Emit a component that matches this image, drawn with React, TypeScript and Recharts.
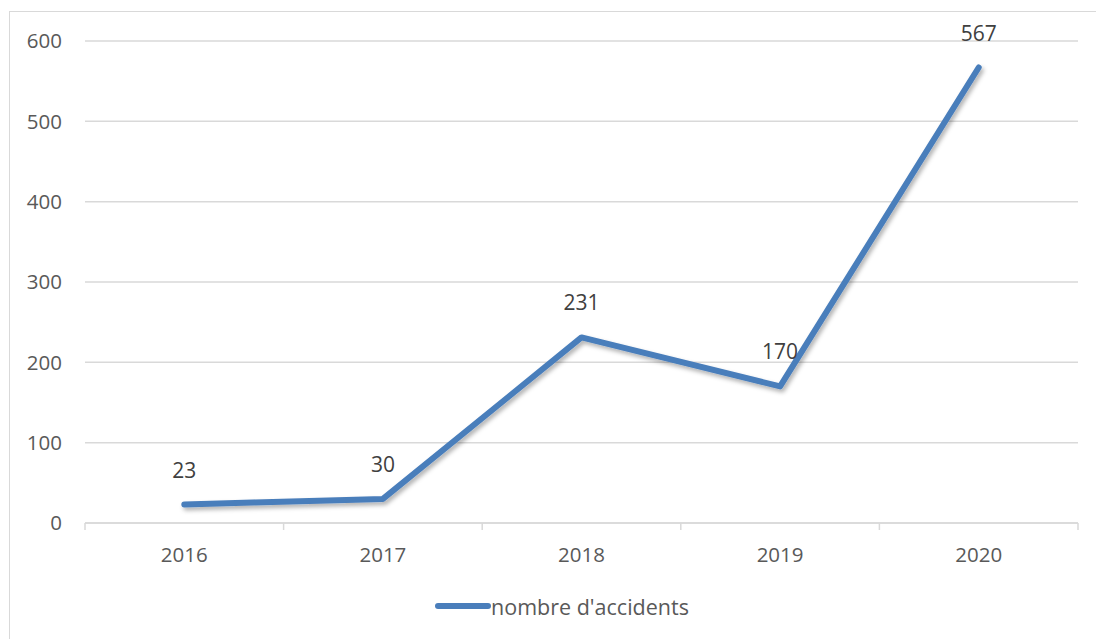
import { CartesianGrid, LabelList, Legend, Line, LineChart, XAxis, YAxis } from "recharts";

const years = ["2016", "2017", "2018", "2019", "2020"];
const accidents = [23, 30, 231, 170, 567];
const yTicks = [0, 100, 200, 300, 400, 500, 600];

const data = years.map((year, i) => ({ year, accidents: accidents[i] }));

const FONT = "'Open Sans', sans-serif";
const LINE_COLOR = "#4a7ebb";
const CHART_W = 1086;
const CHART_H = 627;
const MARGIN = { top: 29, right: 18, bottom: 18, left: 0 };
const Y_WIDTH = 75;
const X_TICK_MARGIN = 18;
const halfBand = (CHART_W - MARGIN.left - MARGIN.right - Y_WIDTH) / years.length / 2;

function YearTick(props: any) {
    const { x, y, payload, index } = props;
    const axisY = y - 6 - X_TICK_MARGIN;
    const left = x - halfBand;
    const right = x + halfBand;
    return (
        <g>
            <line x1={left} x2={left} y1={axisY} y2={axisY + 7} stroke="#d9d9d9" strokeWidth={1.5} />
            {index === years.length - 1 && (
                <line x1={right} x2={right} y1={axisY} y2={axisY + 7} stroke="#d9d9d9" strokeWidth={1.5} />
            )}
            <text x={x} y={y} dy="0.71em" textAnchor="middle" fill="#595959" fontSize={20.5} fontFamily={FONT}>
                {payload.value}
            </text>
        </g>
    );
}

function LegendContent() {
    return (
        <div
            style={{
                height: 30,
                display: "flex",
                alignItems: "center",
                justifyContent: "center",
                paddingLeft: 36,
                fontFamily: FONT,
                fontSize: 21.5,
                color: "#595959",
            }}
        >
            <span
                style={{
                    display: "inline-block",
                    width: 56,
                    height: 6,
                    borderRadius: 3,
                    background: LINE_COLOR,
                }}
            />
            <span>nombre d'accidents</span>
        </div>
    );
}

export default function App() {
    return (
        <div
            style={{
                position: "absolute",
                left: 9,
                top: 11,
                width: 1100,
                height: 640,
                border: "1px solid #d9d9d9",
                background: "#fff",
            }}
        >
            <LineChart width={CHART_W} height={CHART_H} data={data} margin={MARGIN}>
                <defs>
                    <filter id="lineShadow" x="-10%" y="-10%" width="120%" height="130%">
                        <feDropShadow dx="2" dy="3" stdDeviation="2" floodColor="#000" floodOpacity="0.3" />
                    </filter>
                </defs>
                <CartesianGrid vertical={false} stroke="#d9d9d9" strokeWidth={1.5} />
                <XAxis
                    dataKey="year"
                    scale="band"
                    height={68}
                    axisLine={{ stroke: "#d9d9d9", strokeWidth: 1.5 }}
                    tickLine={false}
                    tickMargin={X_TICK_MARGIN}
                    tick={<YearTick />}
                    interval={0}
                />
                <YAxis
                    width={Y_WIDTH}
                    domain={[0, 600]}
                    ticks={yTicks}
                    axisLine={false}
                    tickLine={false}
                    tickMargin={17}
                    tick={{ fill: "#595959", fontSize: 20.5, fontFamily: FONT }}
                />
                <Legend verticalAlign="bottom" height={30} content={<LegendContent />} />
                <Line
                    type="linear"
                    dataKey="accidents"
                    stroke={LINE_COLOR}
                    strokeWidth={6}
                    strokeLinecap="round"
                    strokeLinejoin="round"
                    dot={false}
                    filter="url(#lineShadow)"
                    isAnimationActive={false}
                >
                    <LabelList
                        dataKey="accidents"
                        position="top"
                        offset={27}
                        fill="#404040"
                        fontSize={21}
                        fontFamily={FONT}
                    />
                </Line>
            </LineChart>
        </div>
    );
}
